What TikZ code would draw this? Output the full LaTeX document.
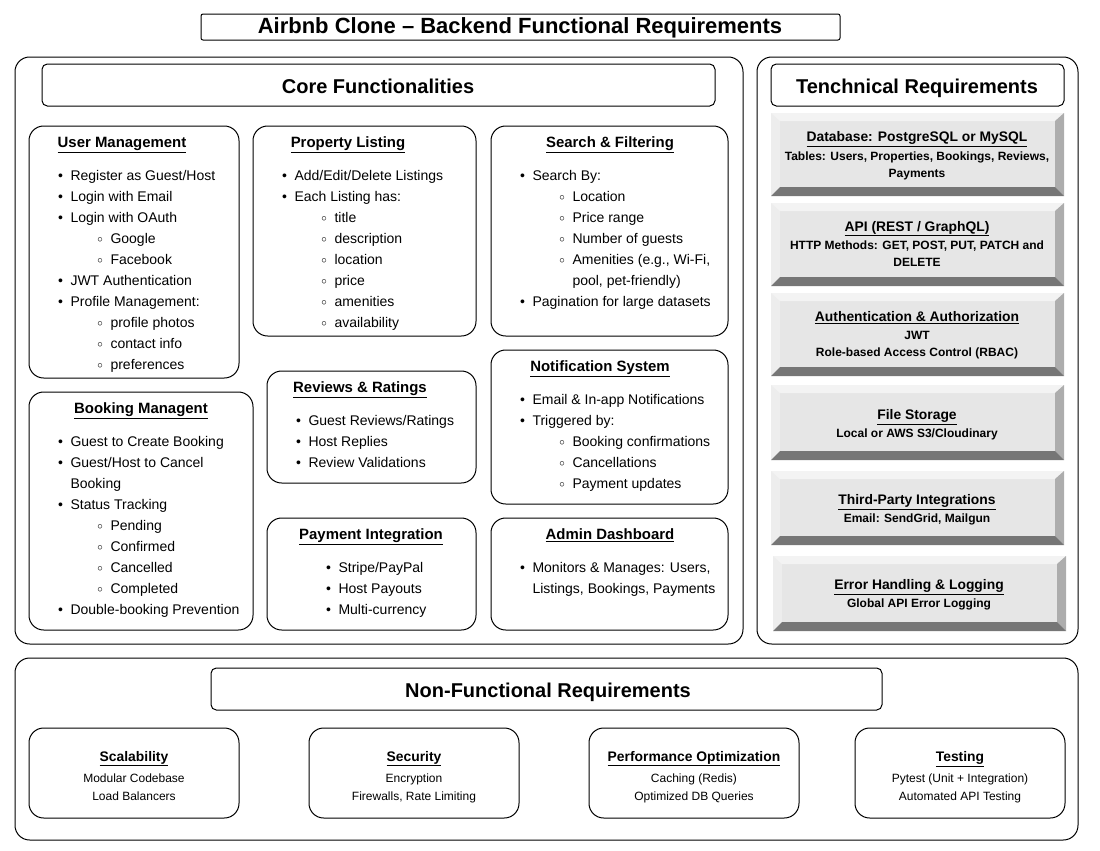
\documentclass[tikz,border=0pt]{standalone}
\usepackage{fontspec}
\setmainfont{Liberation Sans}
\usetikzlibrary{calc}
\definecolor{bvface}{HTML}{E6E6E6}
\definecolor{bvtop}{HTML}{F3F3F3}
\definecolor{bvleft}{HTML}{EDEDED}
\definecolor{bvright}{HTML}{ADADAD}
\definecolor{bvbottom}{HTML}{767676}
\newcommand\itm{\makebox[9.4pt][l]{\textbullet}}
\newcommand\sitm{\hspace*{29.5pt}\makebox[9.9pt][l]{\raisebox{0.6pt}{\scalebox{0.75}{$\circ$}}}}
\newcommand\cnt{\hspace*{9.4pt}}
\newcommand\scnt{\hspace*{39.4pt}}

\begin{document}
\begin{tikzpicture}[x=0.75pt,y=-0.75pt,line width=0.75pt,
    panel/.style={draw,rounded corners=11pt},
    card/.style={draw,rounded corners=11pt},
    head/.style={draw,rounded corners=4pt},
    hd/.style={anchor=base,font=\fontsize{15}{17}\selectfont\bfseries},
    ttl/.style={anchor=base,font=\fontsize{11.2}{12}\selectfont\bfseries},
    lst/.style={anchor=base west,align=left,inner sep=0pt,font=\fontsize{10.5}{15.75}\selectfont},
    bvt/.style={anchor=base,font=\fontsize{10.4}{12}\selectfont\bfseries},
    bvb/.style={anchor=base,align=center,inner sep=0pt,font=\fontsize{9}{12.75}\selectfont\bfseries},
    nft/.style={anchor=base,font=\fontsize{10.4}{12}\selectfont\bfseries},
    nfb/.style={anchor=base,align=center,inner sep=0pt,font=\fontsize{9}{13.5}\selectfont}]
    \useasboundingbox (0,0) rectangle (1100,850);

    \draw[rounded corners=1.5pt] (201,14) rectangle (840,40);
    \node[hd,font=\fontsize{16.5}{18}\selectfont\bfseries] (T) at (520,33) {Airbnb Clone -- Backend Functional Requirements};

    \draw[panel] (15,57) rectangle (743,644);
    \draw[panel] (757,57) rectangle (1078,644);
    \draw[panel] (15,658) rectangle (1078,840);
    \draw[head] (42,64) rectangle (715,106);
    \draw[head] (771,64) rectangle (1064,106);
    \draw[head] (211,668) rectangle (882,710);
    \node[hd] (core) at (378,93) {Core Functionalities};
    \node[hd] (tech) at (917,93) {Tenchnical Requirements};
    \node[hd] (nfr) at (548,697) {Non-Functional Requirements};

    \draw[card] (29,126) rectangle (239,378);
    \draw[card] (253,126) rectangle (476,336);
    \draw[card] (491,126) rectangle (728,336);
    \draw[card] (267,371) rectangle (476,483);
    \draw[card] (491,350) rectangle (728,504);
    \draw[card] (29,392) rectangle (253,630);
    \draw[card] (267,518) rectangle (476,630);
    \draw[card] (491,518) rectangle (728,630);

    \node[ttl] (um) at (122,147) {\underline{User Management}};
    \node[lst] (umL) at (57.5,369) {\itm Register as Guest/Host\\ \itm Login with Email\\ \itm Login with OAuth\\
      \sitm Google\\ \sitm Facebook\\ \itm JWT Authentication\\ \itm Profile Management:\\
      \sitm profile photos\\ \sitm contact info\\ \sitm preferences};

    \node[ttl] (pl) at (348,147) {\underline{Property Listing}};
    \node[lst] (plL) at (281.5,327) {\itm Add/Edit/Delete Listings\\ \itm Each Listing has:\\ \sitm title\\
      \sitm description\\ \sitm location\\ \sitm price\\ \sitm amenities\\ \sitm availability};

    \node[ttl] (sf) at (610,147) {\underline{Search \& Filtering}};
    \node[lst] (sfL) at (519.5,306) {\itm Search By:\\ \sitm Location\\ \sitm Price range\\ \sitm Number of guests\\
      \sitm Amenities (e.g., Wi-Fi,\\ \scnt pool, pet-friendly)\\ \itm Pagination for large datasets};

    \node[ttl] (rr) at (360,392) {\underline{Reviews \& Ratings}};
    \node[lst] (rrL) at (295.5,467) {\itm Guest Reviews/Ratings\\ \itm Host Replies\\ \itm Review Validations};

    \node[ttl] (ns) at (600,371) {\underline{Notification System}};
    \node[lst] (nsL) at (519.5,488) {\itm Email \& In-app Notifications\\ \itm Triggered by:\\
      \sitm Booking confirmations\\ \sitm Cancellations\\ \sitm Payment updates};

    \node[ttl] (bm) at (141,413) {\underline{Booking Managent}};
    \node[lst] (bmL) at (57.5,614) {\itm Guest to Create Booking\\ \itm Guest/Host to Cancel\\ \cnt Booking\\
      \itm Status Tracking\\ \sitm Pending\\ \sitm Confirmed\\ \sitm Cancelled\\ \sitm Completed\\
      \itm Double-booking Prevention};

    \node[ttl] (pi) at (371,539) {\underline{Payment Integration}};
    \node[lst] (piL) at (325.5,614) {\itm Stripe/PayPal\\ \itm Host Payouts\\ \itm Multi-currency};

    \node[ttl] (ad) at (610,539) {\underline{Admin Dashboard}};
    \node[lst] (adL) at (519.5,593) {\itm Monitors \& Manages: Users,\\ \cnt Listings, Bookings, Payments};

    \foreach \xa/\ya/\xb/\yb in {771/113/1064/196, 771/203/1064/286, 771/293/1064/376,
                                 771/385/1064/460, 771/471/1064/545, 773/556/1066/631} {
      \fill[bvface] (\xa+9,\ya+8) rectangle (\xb-9,\yb-9);
      \fill[bvtop] (\xa,\ya) -- (\xb,\ya) -- (\xb-9,\ya+8) -- (\xa+9,\ya+8) -- cycle;
      \fill[bvleft] (\xa,\ya) -- (\xa+9,\ya+8) -- (\xa+9,\yb-9) -- (\xa,\yb) -- cycle;
      \fill[bvright] (\xb,\ya) -- (\xb,\yb) -- (\xb-9,\yb-9) -- (\xb-9,\ya+8) -- cycle;
      \fill[bvbottom] (\xa,\yb) -- (\xb,\yb) -- (\xb-9,\yb-9) -- (\xa+9,\yb-9) -- cycle;
    }
    \node[bvt] (db) at (917,141) {\underline{Database: PostgreSQL or MySQL}};
    \node[bvb] (dbB) at (917,177.5) {Tables: Users, Properties, Bookings, Reviews,\\ Payments};
    \node[bvt] (api) at (917,231) {\underline{API (REST / GraphQL)}};
    \node[bvb] (apiB) at (917,266.5) {HTTP Methods: GET, POST, PUT, PATCH and\\ DELETE};
    \node[bvt] (auth) at (917,321) {\underline{Authentication \& Authorization}};
    \node[bvb] (authB) at (917,356.5) {JWT\\ Role-based Access Control (RBAC)};
    \node[bvt] (fs) at (917,419) {\underline{File Storage}};
    \node[bvb] (fsB) at (917,437.5) {Local or AWS S3/Cloudinary};
    \node[bvt] (tp) at (917,504) {\underline{Third-Party Integrations}};
    \node[bvb] (tpB) at (917,522.5) {Email: SendGrid, Mailgun};
    \node[bvt] (eh) at (919,589) {\underline{Error Handling \& Logging}};
    \node[bvb] (ehB) at (919,607.5) {Global API Error Logging};

    \draw[card] (29,728) rectangle (239,818);
    \draw[card] (309,728) rectangle (519,818);
    \draw[card] (589,728) rectangle (799,818);
    \draw[card] (855,728) rectangle (1065,818);
    \node[nft] (sc) at (134,761) {\underline{Scalability}};
    \node[nfb] (scB) at (134,800) {Modular Codebase\\ Load Balancers};
    \node[nft] (se) at (414,761) {\underline{Security}};
    \node[nfb] (seB) at (414,800) {Encryption\\ Firewalls, Rate Limiting};
    \node[nft] (po) at (694,761) {\underline{Performance Optimization}};
    \node[nfb] (poB) at (694,800) {Caching (Redis)\\ Optimized DB Queries};
    \node[nft] (te) at (960,761) {\underline{Testing}};
    \node[nfb] (teB) at (960,800) {Pytest (Unit + Integration)\\ Automated API Testing};
  \end{tikzpicture}
\end{document}
